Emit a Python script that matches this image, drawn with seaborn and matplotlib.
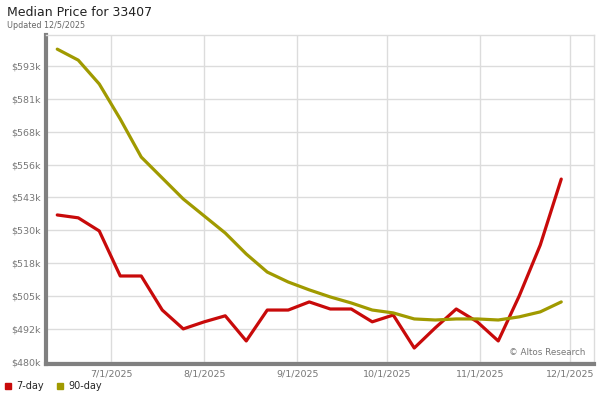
import numpy as np
import pandas as pd
import matplotlib
matplotlib.use("Agg")
import matplotlib.pyplot as plt
from matplotlib.lines import Line2D
import seaborn as sns

# weekly median price, in $k
week_start = "2025-06-13"
seven_day = [536.1, 535.0, 530.0, 512.8, 512.8, 499.8, 492.6, 495.3, 497.6, 488.0,
             499.8, 499.8, 502.9, 500.2, 500.2, 495.3, 497.9, 485.3, 493.0, 500.2,
             495.3, 488.0, 505.2, 524.6, 549.8]
ninety_day = [599.4, 595.2, 586.1, 572.7, 558.2, 550.2, 542.2, 535.7, 529.2, 521.2,
              514.3, 510.5, 507.5, 504.8, 502.5, 499.8, 498.7, 496.4, 496.0, 496.4,
              496.4, 496.0, 497.2, 499.1, 502.9]
series_names = ["7-day", "90-day"]
series_colors = ["#c80a0a", "#a09a00"]
ytick_labels = ["$480k", "$492k", "$505k", "$518k", "$530k", "$543k",
                "$556k", "$568k", "$581k", "$593k"]
xtick_dates = ["2025-07-01", "2025-08-01", "2025-09-01", "2025-10-01",
               "2025-11-01", "2025-12-01"]
xtick_labels = ["7/1/2025", "8/1/2025", "9/1/2025", "10/1/2025", "11/1/2025", "12/1/2025"]

dates = pd.date_range(week_start, periods=len(seven_day), freq="7D")
df = pd.DataFrame({
    "date": list(dates) * 2,
    "price": seven_day + ninety_day,
    "series": [series_names[0]] * len(seven_day) + [series_names[1]] * len(ninety_day),
})

sns.set_style("white")
plt.rcParams["font.family"] = ["DejaVu Sans"]

fig = plt.figure(figsize=(6, 4), dpi=100)
ax = fig.add_axes([46 / 600, 1 - 364 / 400, 548 / 600, 329 / 400])

sns.lineplot(data=df, x="date", y="price", hue="series", palette=series_colors,
             linewidth=2.3, legend=False, ax=ax)

ax.set_xlim(pd.Timestamp("2025-06-09 06:00"), pd.Timestamp("2025-12-08 22:00"))
ax.set_ylim(479.2, 604.8)
ax.set_yticks(np.linspace(480, 593, len(ytick_labels)))
ax.set_yticklabels(ytick_labels)
ax.set_xticks(pd.to_datetime(xtick_dates))
ax.set_xticklabels(xtick_labels)
ax.tick_params(length=0, labelsize=6.8, labelcolor="#777777", pad=4)
ax.set_xlabel("")
ax.set_ylabel("")
ax.grid(True, color="#dcdcdc", linewidth=1)
ax.set_axisbelow(True)

for side in ["top", "right"]:
    ax.spines[side].set_color("#dcdcdc")
    ax.spines[side].set_linewidth(1)
for side in ["left", "bottom"]:
    ax.spines[side].set_color("#808080")
    ax.spines[side].set_linewidth(3)

fig.text(7 / 600, 1 - 12 / 400, "Median Price for 33407", fontsize=9, color="#222222", va="center")
fig.text(7 / 600, 1 - 25 / 400, "Updated 12/5/2025", fontsize=5.8, color="#666666", va="center")
ax.text(0.985, 0.02, "\u00a9 Altos Research", transform=ax.transAxes, ha="right", va="bottom",
        fontsize=6.3, color="#777777")

handles = [Line2D([], [], marker="s", linestyle="none", color=c, markersize=5) for c in series_colors]
fig.legend(handles, series_names, loc="center left", bbox_to_anchor=(0, 1 - 386 / 400),
           ncol=2, frameon=False, fontsize=7, handletextpad=0.3, columnspacing=1.0,
           borderaxespad=0, borderpad=0.2, handlelength=1.2)

fig.savefig("out.png", dpi=100, facecolor="white")
